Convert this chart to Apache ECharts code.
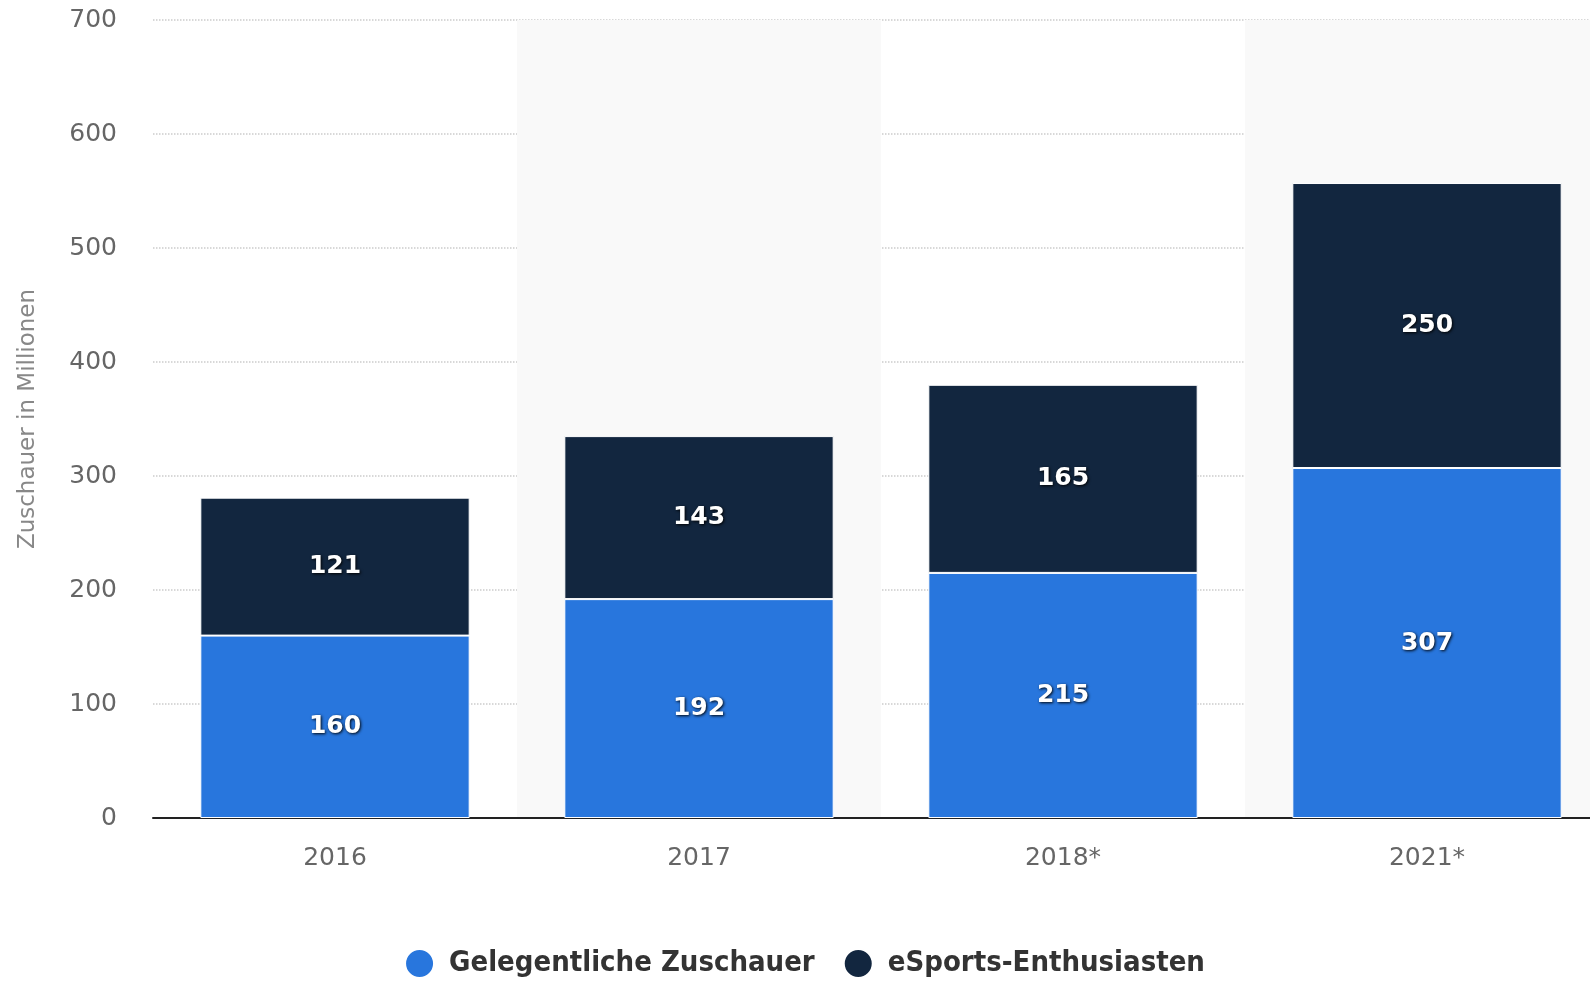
<!DOCTYPE html>
<html><head><meta charset="utf-8">
<script src="https://cdn.jsdelivr.net/npm/echarts@6/dist/echarts.min.js"></script>
<style>html,body{margin:0;padding:0;background:#fff;overflow:hidden;}#c{width:1609px;height:982px;}</style>
</head><body><div id="c"></div>
<script>
const categories = ['2016', '2017', '2018*', '2021*'];
const gelegentliche = [160, 192, 215, 307];
const enthusiasten = [121, 143, 165, 250];
const seriesNames = ['Gelegentliche Zuschauer', 'eSports-Enthusiasten'];
const yAxisName = 'Zuschauer in Millionen';

const labelStyle = {
  show: true, position: 'inside', color: '#fff', fontSize: 25, fontWeight: 'bold',
  fontFamily: 'DejaVu Sans', textShadowColor: 'rgba(0,0,0,0.95)', textShadowBlur: 3,
  textShadowOffsetX: 1, textShadowOffsetY: 1
};
const chart = echarts.init(document.getElementById('c'));
chart.setOption({
  animation: false,
  grid: { left: 153, top: 20, right: 0, bottom: 164, containLabel: false },
  legend: {
    bottom: -2, left: 'center', icon: 'circle', itemWidth: 29, itemHeight: 29, itemGap: 28,
    textStyle: { fontSize: 29, fontWeight: 'bold', color: '#333', padding: [0, 0, 0, 10],
      fontFamily: "'Liberation Sans Narrow', 'DejaVu Sans Condensed', 'Roboto Condensed', sans-serif" },
    data: seriesNames
  },
  xAxis: {
    type: 'category', data: categories,
    axisLine: { lineStyle: { color: '#222', width: 2 } },
    axisTick: { show: false },
    axisLabel: { color: '#666', fontSize: 25, margin: 28, fontFamily: 'DejaVu Sans' },
    splitArea: { show: true, areaStyle: { color: ['rgba(255,255,255,0)', '#f9f9f9'] } }
  },
  yAxis: {
    type: 'value', min: 0, max: 700, interval: 100,
    name: yAxisName, nameLocation: 'middle', nameGap: 113,
    nameTextStyle: { color: '#888', fontSize: 23, fontFamily: 'DejaVu Sans' },
    axisLine: { show: false }, axisTick: { show: false },
    axisLabel: { color: '#666', fontSize: 25, margin: 36, fontFamily: 'DejaVu Sans' },
    splitLine: { lineStyle: { color: '#ccc', type: 'dotted', width: 1.5 } }
  },
  series: [
    { name: seriesNames[0], type: 'bar', stack: 's', data: gelegentliche, barWidth: '74%',
      itemStyle: { color: '#2876dd', borderColor: '#fff', borderWidth: 1 }, label: labelStyle },
    { name: seriesNames[1], type: 'bar', stack: 's', data: enthusiasten, barWidth: '74%',
      itemStyle: { color: '#12263f', borderColor: '#fff', borderWidth: 1 }, label: labelStyle }
  ]
});
</script></body></html>
